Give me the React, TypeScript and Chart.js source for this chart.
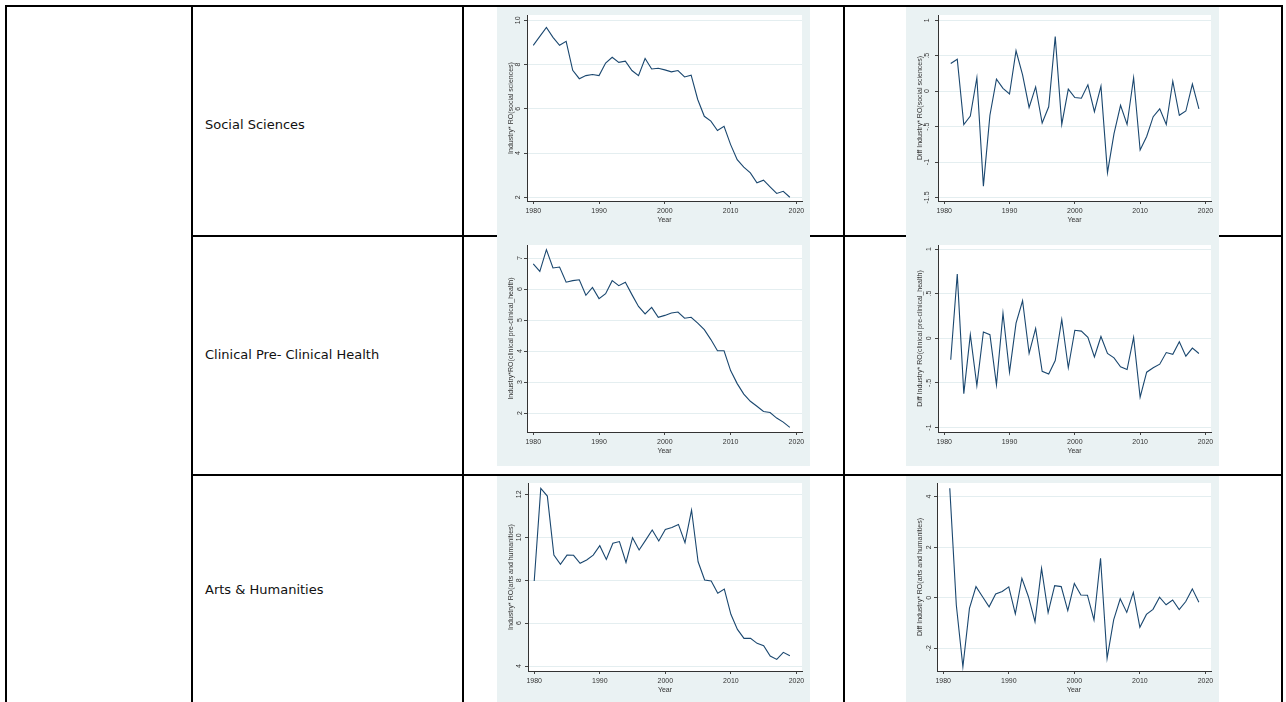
import React, { useEffect, useRef } from "react";
import { Chart, registerables } from "chart.js";

Chart.register(...registerables);
Chart.defaults.font.family = "'Liberation Sans', Arial, sans-serif";

const years = [
  1980, 1981, 1982, 1983, 1984, 1985, 1986, 1987, 1988, 1989,
  1990, 1991, 1992, 1993, 1994, 1995, 1996, 1997, 1998, 1999,
  2000, 2001, 2002, 2003, 2004, 2005, 2006, 2007, 2008, 2009,
  2010, 2011, 2012, 2013, 2014, 2015, 2016, 2017, 2018, 2019,
];
const diffYears = [
  1981, 1982, 1983, 1984, 1985, 1986, 1987, 1988, 1989,
  1990, 1991, 1992, 1993, 1994, 1995, 1996, 1997, 1998, 1999,
  2000, 2001, 2002, 2003, 2004, 2005, 2006, 2007, 2008, 2009,
  2010, 2011, 2012, 2013, 2014, 2015, 2016, 2017, 2018, 2019,
];

const socialLevel = [
  8.87, 9.27, 9.68, 9.23, 8.87, 9.05, 7.74, 7.36, 7.5, 7.55,
  7.5, 8.07, 8.33, 8.1, 8.15, 7.73, 7.5, 8.27, 7.8, 7.83,
  7.76, 7.67, 7.73, 7.44, 7.52, 6.42, 5.66, 5.44, 5.02, 5.21,
  4.38, 3.7, 3.36, 3.1, 2.65, 2.77, 2.47, 2.17, 2.27, 2.0,
];
const socialDiff = [
  0.39, 0.45, -0.47, -0.35, 0.19, -1.34, -0.34, 0.17, 0.04,
  -0.04, 0.57, 0.23, -0.23, 0.06, -0.45, -0.22, 0.77, -0.47, 0.03,
  -0.09, -0.1, 0.09, -0.29, 0.07, -1.15, -0.6, -0.2, -0.47, 0.19,
  -0.83, -0.64, -0.36, -0.25, -0.47, 0.14, -0.34, -0.28, 0.1, -0.25,
];
const clinicalLevel = [
  6.81, 6.57, 7.27, 6.68, 6.71, 6.22, 6.27, 6.3, 5.8, 6.05,
  5.69, 5.85, 6.27, 6.11, 6.22, 5.82, 5.44, 5.2, 5.41, 5.09,
  5.15, 5.23, 5.26, 5.06, 5.09, 4.9, 4.69, 4.37, 4.01, 4.01,
  3.37, 2.95, 2.61, 2.38, 2.22, 2.05, 2.02, 1.84, 1.71, 1.54,
];
const clinicalDiff = [
  -0.24, 0.72, -0.62, 0.04, -0.53, 0.07, 0.04, -0.52, 0.28,
  -0.38, 0.17, 0.42, -0.17, 0.11, -0.37, -0.4, -0.25, 0.21, -0.33,
  0.09, 0.08, 0.01, -0.21, 0.02, -0.17, -0.22, -0.32, -0.35, 0.01,
  -0.66, -0.38, -0.33, -0.29, -0.16, -0.18, -0.04, -0.2, -0.11, -0.17,
];
const artsLevel = [
  7.96, 12.28, 11.92, 9.17, 8.74, 9.17, 9.16, 8.79, 8.94, 9.17,
  9.61, 8.97, 9.72, 9.8, 8.83, 9.98, 9.41, 9.87, 10.34, 9.83,
  10.37, 10.46, 10.6, 9.75, 11.27, 8.86, 8.01, 7.96, 7.39, 7.59,
  6.41, 5.71, 5.29, 5.29, 5.06, 4.95, 4.47, 4.31, 4.64, 4.48,
];
const artsDiff = [
  4.33, -0.3, -2.73, -0.42, 0.44, 0.04, -0.36, 0.15, 0.25,
  0.43, -0.64, 0.77, 0.04, -0.95, 1.16, -0.59, 0.48, 0.44, -0.51,
  0.56, 0.11, 0.1, -0.88, 1.56, -2.4, -0.88, -0.04, -0.58, 0.21,
  -1.17, -0.66, -0.46, 0.02, -0.28, -0.09, -0.47, -0.15, 0.35, -0.18,
];

const yearTicks = [1980, 1990, 2000, 2010, 2020];
const socialLevelTicks = [2, 4, 6, 8, 10];
const socialDiffTicks = [-1.5, -1, -0.5, 0, 0.5, 1];
const clinicalLevelTicks = [2, 3, 4, 5, 6, 7];
const clinicalDiffTicks = [-1, -0.5, 0, 0.5, 1];
const artsLevelTicks = [4, 6, 8, 10, 12];
const artsDiffTicks = [-2, 0, 2, 4];

const rowLabels = ["Social Sciences", "Clinical Pre- Clinical Health", "Arts & Humanities"];
const xTitle = "Year";
const yTitles = [
  "Industry* RO(social sciences)",
  "Diff Industry* RO(social sciences)",
  "Industry*RO(clinical pre-clinical_health)",
  "Diff Industry* RO(clinical pre-clinical_health)",
  "Industry* RO(arts and humanities)",
  "Diff Industry* RO(arts and humanities)",
];

const stataFmt = (v: number) => String(v).replace(/^(-?)0\./, "$1.");

const bgPlugin = {
  id: "stataBg",
  beforeDraw(chart: any) {
    const { ctx, chartArea, width, height } = chart;
    ctx.save();
    ctx.fillStyle = "#EAF2F3";
    ctx.fillRect(0, 0, width, height);
    ctx.fillStyle = "#ffffff";
    ctx.fillRect(chartArea.left, chartArea.top, chartArea.right - chartArea.left, chartArea.bottom - chartArea.top);
    ctx.restore();
  },
};

type Box = { x: number; y: number; w: number; h: number };
type Plot = { l: number; t: number; r: number; b: number };

function StataChart(props: {
  box: Box; plot: Plot; xs: number[]; ys: number[];
  yMin: number; yMax: number; yTicks: number[]; yTitle: string;
}) {
  const ref = useRef<HTMLCanvasElement>(null);
  const { box, plot } = props;
  useEffect(() => {
    const { xs, ys, yMin, yMax, yTicks, yTitle } = props;
    const xh = 23;
    const chart = new Chart(ref.current as HTMLCanvasElement, {
      type: "line",
      data: {
        datasets: [{
          data: xs.map((x, i) => ({ x, y: ys[i] })),
          borderColor: "#1a476f",
          borderWidth: 1.1,
          pointRadius: 0,
          fill: false,
          tension: 0,
        }],
      },
      options: {
        animation: false,
        responsive: false,
        devicePixelRatio: 1,
        events: [],
        layout: {
          padding: {
            left: 0,
            top: plot.t - box.y,
            right: box.x + box.w - plot.r,
            bottom: box.y + box.h - plot.b - xh,
          },
        },
        plugins: { legend: { display: false }, tooltip: { enabled: false } },
        scales: {
          x: {
            type: "linear",
            min: 1979.05,
            max: 2020.85,
            afterBuildTicks: (s: any) => { s.ticks = yearTicks.map((v) => ({ value: v })); },
            afterFit: (s: any) => { s.height = xh; s.paddingLeft = 0; s.paddingRight = 0; },
            grid: { drawOnChartArea: false, tickLength: 3, tickColor: "#444" },
            border: { color: "#333", width: 1 },
            ticks: { font: { size: 7 }, color: "#333", padding: 3, maxRotation: 0, autoSkip: false, callback: (v: any) => String(v) },
            title: { display: true, text: xTitle, font: { size: 7 }, color: "#333", padding: 0 },
          },
          y: {
            type: "linear",
            min: yMin,
            max: yMax,
            afterBuildTicks: (s: any) => { s.ticks = yTicks.map((v) => ({ value: v })); },
            afterFit: (s: any) => { s.width = plot.l - box.x; s.paddingTop = 0; s.paddingBottom = 0; },
            grid: { color: "#e4eef0", tickLength: 3, tickColor: "#444" },
            border: { color: "#333", width: 1 },
            ticks: {
              font: { size: 7 }, color: "#333", padding: 2, minRotation: 90, maxRotation: 90,
              crossAlign: "center", autoSkip: false, callback: (v: any) => stataFmt(Number(v)),
            },
            title: { display: true, text: yTitle, font: { size: 7 }, color: "#333", padding: { top: 10, bottom: 0 } },
          },
        },
      } as any,
      plugins: [bgPlugin],
    });
    return () => chart.destroy();
  }, []);
  return (
    <canvas
      ref={ref}
      width={box.w}
      height={box.h}
      style={{ position: "absolute", left: box.x, top: box.y, width: box.w, height: box.h, zIndex: 2 }}
    />
  );
}

function Line(p: { x: number; y: number; w: number; h: number }) {
  return <div style={{ position: "absolute", left: p.x, top: p.y, width: p.w, height: p.h, background: "#000", zIndex: 1 }} />;
}

export default function App() {
  const lines = [
    { x: 5, y: 5, w: 1278, h: 2 },
    { x: 5, y: 5, w: 2, h: 697 },
    { x: 191, y: 5, w: 2, h: 697 },
    { x: 462, y: 5, w: 2, h: 697 },
    { x: 843, y: 5, w: 2, h: 697 },
    { x: 1281, y: 5, w: 2, h: 697 },
    { x: 191, y: 235, w: 1092, h: 2 },
    { x: 191, y: 474, w: 1092, h: 2 },
  ];
  const labelY = [125, 355, 590];
  return (
    <div style={{ position: "absolute", left: 0, top: 0, width: 1286, height: 702, overflow: "hidden", background: "#fff" }}>
      {lines.map((l, i) => <Line key={i} {...l} />)}
      {rowLabels.map((t, i) => (
        <div key={t} style={{
          position: "absolute", left: 205, top: labelY[i] - 9, height: 18, lineHeight: "18px",
          fontFamily: "'DejaVu Sans', Verdana, sans-serif", fontSize: 13, color: "#111", whiteSpace: "nowrap",
        }}>{t}</div>
      ))}
      <StataChart box={{ x: 497, y: 7, w: 313, h: 229 }} plot={{ l: 527, t: 15, r: 802, b: 201 }}
        xs={years} ys={socialLevel} yMin={1.83} yMax={10.24} yTicks={socialLevelTicks} yTitle={yTitles[0]} />
      <StataChart box={{ x: 906, y: 7, w: 313, h: 229 }} plot={{ l: 938, t: 15, r: 1211, b: 201 }}
        xs={diffYears} ys={socialDiff} yMin={-1.55} yMax={1.075} yTicks={socialDiffTicks} yTitle={yTitles[1]} />
      <StataChart box={{ x: 497, y: 236, w: 313, h: 230 }} plot={{ l: 527, t: 245, r: 802, b: 432 }}
        xs={years} ys={clinicalLevel} yMin={1.39} yMax={7.42} yTicks={clinicalLevelTicks} yTitle={yTitles[2]} />
      <StataChart box={{ x: 906, y: 236, w: 313, h: 230 }} plot={{ l: 938, t: 245, r: 1211, b: 432 }}
        xs={diffYears} ys={clinicalDiff} yMin={-1.05} yMax={1.045} yTicks={clinicalDiffTicks} yTitle={yTitles[3]} />
      <StataChart box={{ x: 497, y: 476, w: 313, h: 226 }} plot={{ l: 528, t: 483, r: 802, b: 671 }}
        xs={years} ys={artsLevel} yMin={3.77} yMax={12.53} yTicks={artsLevelTicks} yTitle={yTitles[4]} />
      <StataChart box={{ x: 906, y: 476, w: 313, h: 226 }} plot={{ l: 937, t: 483, r: 1211, b: 671 }}
        xs={diffYears} ys={artsDiff} yMin={-2.9} yMax={4.54} yTicks={artsDiffTicks} yTitle={yTitles[5]} />
    </div>
  );
}
